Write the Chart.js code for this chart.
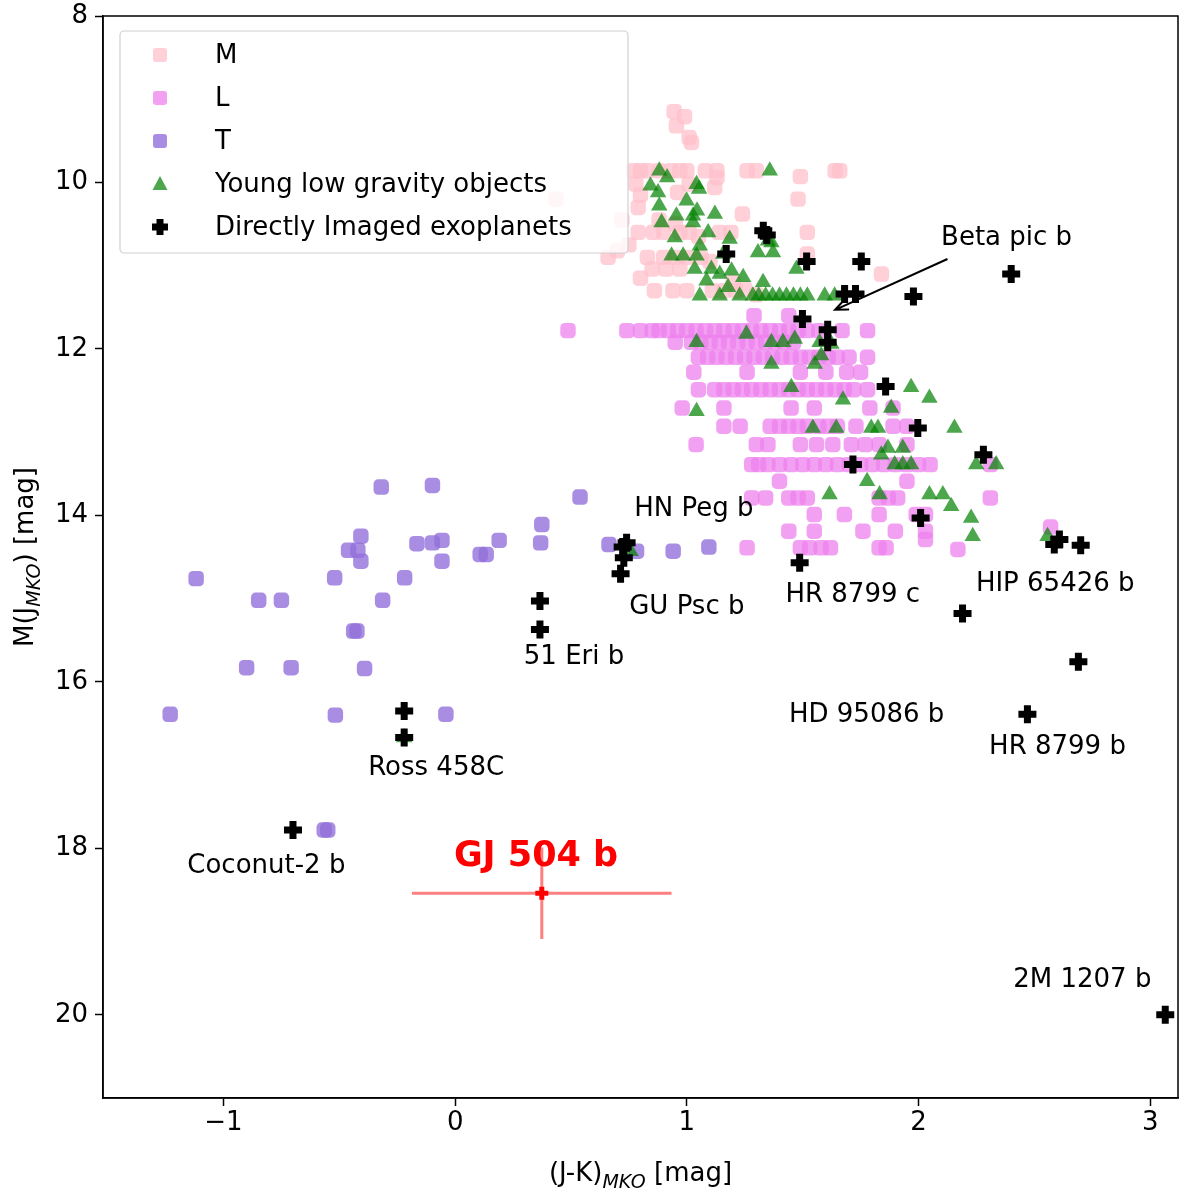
<!DOCTYPE html>
<html>
  <head>
    <title>Colour-magnitude diagram</title>
    <script src="https://cdn.jsdelivr.net/npm/chart.js"></script>
    <style>
      body { margin: 0; background: #fff; }
      #wrap { width: 1200px; height: 1194px; }
    </style>
  </head>
  <body>
    <div id="wrap"><canvas id="cmdChart"></canvas></div>

    <script>
      // values, [J-K, M_J]
      const mDwarfs = [
        [0.945, 9.15], [0.99, 9.21], [0.955, 9.32], [1.01, 9.46], [1.02, 9.52],
        [0.77, 9.86], [0.8, 9.86], [0.83, 9.86], [0.88, 9.86], [0.93, 9.86], [0.97, 9.86], [1.0, 9.86],
        [1.08, 9.86], [1.13, 9.86], [1.26, 9.86], [1.3, 9.86], [1.64, 9.86], [1.66, 9.86], [1.49, 9.93],
        [1.13, 9.94], [1.01, 10.02], [1.12, 10.06], [0.78, 10.02], [0.8, 10.15], [0.96, 10.12],
        [0.79, 10.3], [1.24, 10.38], [1.48, 10.2], [0.435, 10.2], [0.88, 10.45], [0.95, 10.5], [0.72, 10.45],
        [0.79, 10.6], [0.855, 10.6], [0.9, 10.6], [0.97, 10.6], [1.01, 10.6], [1.14, 10.6], [1.19, 10.6], [1.52, 10.6],
        [1.05, 10.65], [0.75, 10.75], [0.66, 10.9], [0.7, 10.82],
        [0.83, 10.9], [0.9, 10.9], [0.95, 10.9], [1.0, 10.9], [1.06, 10.9], [1.1, 10.95], [1.52, 10.86],
        [0.85, 11.04], [0.91, 11.04], [0.97, 11.04], [1.84, 11.1], [1.2, 11.2], [0.8, 11.15],
        [0.86, 11.3], [0.94, 11.3], [1.0, 11.3], [1.11, 11.3], [1.16, 11.3], [1.21, 11.3], [1.25, 11.28], [1.3, 11.35]
      ];

      const lDwarfs = [
        [1.29, 11.6], [1.44, 11.6],
        [0.487, 11.78], [0.741, 11.78], [0.8, 11.78], [0.85, 11.78], [0.88, 11.78], [0.92, 11.78], [0.96, 11.78],
        [1.0, 11.78], [1.04, 11.78], [1.08, 11.78], [1.12, 11.78], [1.16, 11.78], [1.2, 11.78], [1.24, 11.78],
        [1.28, 11.78], [1.32, 11.78], [1.36, 11.78], [1.4, 11.78], [1.44, 11.78], [1.48, 11.78], [1.52, 11.78],
        [1.57, 11.78], [1.67, 11.78], [1.78, 11.78],
        [0.95, 11.92], [1.02, 11.92], [1.06, 11.92], [1.1, 11.92], [1.14, 11.92], [1.18, 11.92], [1.22, 11.92],
        [1.26, 11.92], [1.3, 11.92], [1.34, 11.92], [1.38, 11.92], [1.42, 11.92], [1.46, 11.92],
        [1.05, 12.1], [1.09, 12.1], [1.13, 12.1], [1.17, 12.1], [1.21, 12.1], [1.25, 12.1], [1.29, 12.1],
        [1.33, 12.1], [1.37, 12.1], [1.41, 12.1], [1.45, 12.1], [1.49, 12.1], [1.53, 12.1], [1.57, 12.1],
        [1.61, 12.1], [1.65, 12.1], [1.7, 12.1], [1.78, 12.1],
        [1.03, 12.28], [1.26, 12.28], [1.49, 12.28], [1.6, 12.28], [1.69, 12.28], [1.75, 12.28],
        [1.05, 12.49], [1.12, 12.49], [1.16, 12.49], [1.2, 12.49], [1.24, 12.49], [1.28, 12.49], [1.32, 12.49],
        [1.36, 12.49], [1.4, 12.49], [1.44, 12.49], [1.48, 12.49], [1.52, 12.49], [1.56, 12.49], [1.6, 12.49],
        [1.64, 12.49], [1.68, 12.49], [1.72, 12.49], [1.78, 12.49],
        [0.98, 12.71], [1.16, 12.71], [1.45, 12.71], [1.55, 12.71], [1.79, 12.71], [1.89, 12.71],
        [1.16, 12.93], [1.23, 12.93], [1.36, 12.93], [1.4, 12.93], [1.44, 12.93], [1.48, 12.93], [1.52, 12.93],
        [1.57, 12.93], [1.61, 12.93], [1.65, 12.93], [1.73, 12.93], [1.89, 12.93], [1.95, 12.93],
        [1.04, 13.15], [1.3, 13.15], [1.35, 13.15], [1.49, 13.15], [1.56, 13.15], [1.63, 13.15], [1.71, 13.15],
        [1.77, 13.15], [1.83, 13.15], [1.95, 13.15],
        [1.28, 13.39], [1.31, 13.39], [1.35, 13.39], [1.4, 13.39], [1.45, 13.39], [1.5, 13.39], [1.55, 13.39],
        [1.6, 13.39], [1.65, 13.39], [1.7, 13.39], [1.75, 13.39], [1.8, 13.39], [1.85, 13.39], [1.9, 13.39],
        [1.95, 13.39], [2.0, 13.39], [2.05, 13.39], [2.31, 13.39],
        [1.4, 13.59], [1.95, 13.59],
        [1.28, 13.79], [1.34, 13.79], [1.44, 13.79], [1.48, 13.79], [1.52, 13.79], [1.83, 13.79], [1.87, 13.79],
        [1.91, 13.79], [2.31, 13.79],
        [1.55, 13.99], [1.68, 13.99], [1.83, 13.99], [1.99, 13.99], [2.03, 13.99],
        [1.44, 14.19], [1.55, 14.19], [1.76, 14.19], [1.9, 14.19], [2.03, 14.19], [2.57, 14.14], [2.03, 14.29],
        [1.26, 14.39], [1.49, 14.39], [1.53, 14.39], [1.58, 14.39], [1.62, 14.39], [1.83, 14.39], [1.86, 14.39],
        [2.17, 14.41]
      ];

      const tDwarfs = [
        [-0.319, 13.66], [-0.098, 13.64], [0.539, 13.78], [-0.407, 14.25], [-0.46, 14.42], [-0.42, 14.42],
        [-0.407, 14.55], [-0.165, 14.34], [-0.098, 14.33], [-0.057, 14.3], [-0.057, 14.55], [0.108, 14.47],
        [0.134, 14.47], [0.19, 14.3], [0.374, 14.11], [0.369, 14.33], [0.664, 14.35], [0.783, 14.43],
        [0.941, 14.43], [1.095, 14.38],
        [-1.118, 14.76], [-0.52, 14.75], [-0.218, 14.75], [-0.848, 15.02], [-0.75, 15.02], [-0.313, 15.02],
        [-0.438, 15.39], [-0.424, 15.39], [-0.9, 15.83], [-0.708, 15.83], [-0.391, 15.84],
        [-1.23, 16.39], [-0.517, 16.4], [-0.04, 16.39], [-0.565, 17.78], [-0.55, 17.78]
      ];

      const youngObjects = [
        [0.881, 9.86], [0.915, 9.94], [1.358, 9.86], [0.843, 10.04], [0.876, 10.12], [1.042, 10.02],
        [1.053, 10.08], [0.881, 10.28], [0.999, 10.22], [0.955, 10.4], [1.027, 10.4], [1.044, 10.34],
        [1.121, 10.38], [0.891, 10.48], [1.027, 10.48], [1.092, 10.6], [0.948, 10.66], [1.185, 10.68],
        [1.365, 10.72], [1.35, 10.7], [1.056, 10.76], [1.307, 10.84], [1.372, 10.84], [0.934, 10.88],
        [0.984, 10.88], [1.042, 10.88], [1.157, 10.86], [1.034, 11.04], [1.106, 11.04], [1.193, 11.06],
        [1.473, 11.04], [1.243, 11.14], [1.085, 11.18], [1.142, 11.1], [1.329, 11.2], [1.178, 11.26],
        [1.056, 11.36], [1.142, 11.36], [1.228, 11.36], [1.285, 11.36], [1.31, 11.36], [1.34, 11.36],
        [1.37, 11.36], [1.4, 11.36], [1.43, 11.36], [1.46, 11.36], [1.49, 11.36], [1.52, 11.36],
        [1.595, 11.36], [1.638, 11.36],
        [1.257, 11.82], [1.042, 11.92], [1.365, 11.92], [1.415, 11.92], [1.466, 11.88], [1.573, 11.92],
        [1.624, 11.94], [1.58, 12.08], [1.365, 12.18], [1.552, 12.18], [1.451, 12.46], [1.968, 12.46],
        [2.047, 12.59], [1.674, 12.61], [1.882, 12.71], [1.042, 12.75], [1.544, 12.95], [1.645, 12.95],
        [1.796, 12.95], [1.825, 12.95], [2.155, 12.95], [1.868, 13.19], [1.932, 13.19], [1.839, 13.27],
        [1.897, 13.39], [1.932, 13.39], [1.968, 13.39], [2.249, 13.39], [2.335, 13.39], [1.778, 13.59],
        [1.616, 13.75], [1.832, 13.75], [2.047, 13.75], [2.105, 13.75], [2.141, 13.89], [2.227, 14.03],
        [2.234, 14.25], [2.557, 14.25], [-0.22, 16.67], [0.757, 14.43]
      ];

      const exoplanets = [
        [-0.7, 17.78], [-0.22, 16.35], [-0.22, 16.67], [0.366, 15.03], [0.366, 15.37],
        [0.723, 14.38], [0.74, 14.33], [0.728, 14.51], [0.714, 14.7],
        [1.17, 10.86], [1.33, 10.58], [1.345, 10.63], [1.517, 10.95], [1.753, 10.95], [1.681, 11.34],
        [1.728, 11.34], [1.499, 11.64], [1.608, 11.77], [1.608, 11.92], [2.4, 11.1], [1.978, 11.37],
        [1.858, 12.45], [1.997, 12.95], [2.28, 13.27], [1.717, 13.39], [2.009, 14.03],
        [2.586, 14.35], [2.608, 14.29], [2.7, 14.36], [2.19, 15.18], [2.69, 15.76], [2.47, 16.39],
        [1.487, 14.57], [3.065, 20.0]
      ];

      // GJ 504 b with its error bars
      const gj504 = { x: 0.374, y: 18.54, xErr: 0.56, yErr: 0.55 };

      const labelTexts = ["Beta pic b", "HN Peg b", "GU Psc b", "51 Eri b", "HR 8799 c", "HIP 65426 b",
        "HD 95086 b", "HR 8799 b", "Ross 458C", "Coconut-2 b", "2M 1207 b"];
      const labelX = [2.38, 1.03, 1.0, 0.513, 1.716, 2.59, 1.776, 2.6, -0.082, -0.815, 2.707];
      const labelY = [10.67, 13.93, 15.1, 15.71, 14.96, 14.83, 16.4, 16.79, 17.04, 18.22, 19.59];

      const xTicks = [-1, 0, 1, 2, 3];
      const yTicks = [8, 10, 12, 14, 16, 18, 20];

      const toPoints = (arr) => arr.map((p) => ({ x: p[0], y: p[1] }));
      const FONT = "DejaVu Sans";

      // annotation labels, arrow, frame
      const annotations = {
        id: "annotations",
        afterDatasetsDraw(chart) {
          const ctx = chart.ctx;
          const xs = chart.scales.x;
          const ys = chart.scales.y;
          ctx.save();
          ctx.fillStyle = "#000";
          ctx.font = "26px " + FONT;
          ctx.textAlign = "center";
          ctx.textBaseline = "middle";
          labelTexts.forEach((t, i) => {
            ctx.fillText(t, xs.getPixelForValue(labelX[i]), ys.getPixelForValue(labelY[i]));
          });

          // arrow pointing at Beta pic b
          const x0 = xs.getPixelForValue(2.125), y0 = ys.getPixelForValue(10.92);
          const x1 = xs.getPixelForValue(1.64), y1 = ys.getPixelForValue(11.53);
          const ang = Math.atan2(y1 - y0, x1 - x0);
          ctx.strokeStyle = "#000";
          ctx.lineWidth = 2;
          ctx.beginPath();
          ctx.moveTo(x0, y0);
          ctx.lineTo(x1, y1);
          ctx.moveTo(x1 - 14 * Math.cos(ang - 0.4), y1 - 14 * Math.sin(ang - 0.4));
          ctx.lineTo(x1, y1);
          ctx.lineTo(x1 - 14 * Math.cos(ang + 0.4), y1 - 14 * Math.sin(ang + 0.4));
          ctx.stroke();

          ctx.fillStyle = "#ff0000";
          ctx.font = "bold 35px " + FONT;
          ctx.fillText("GJ 504 b", xs.getPixelForValue(0.349), ys.getPixelForValue(18.1));
          ctx.restore();
        },
        afterDraw(chart) {
          const a = chart.chartArea;
          const ctx = chart.ctx;
          ctx.save();
          ctx.strokeStyle = "#000";
          ctx.lineWidth = 1.5;
          ctx.strokeRect(a.left, a.top, a.right - a.left, a.bottom - a.top);
          ctx.restore();
        },
      };

      // axis titles with subscripts
      function drawRuns(ctx, runs, cx, cy) {
        let total = 0;
        runs.forEach((r) => {
          ctx.font = r.sub ? "italic 19px " + FONT : "26px " + FONT;
          r.w = ctx.measureText(r.t).width;
          total += r.w;
        });
        let x = cx - total / 2;
        runs.forEach((r) => {
          ctx.font = r.sub ? "italic 19px " + FONT : "26px " + FONT;
          ctx.fillText(r.t, x, r.sub ? cy + 7 : cy);
          x += r.w;
        });
      }

      const axisTitles = {
        id: "axisTitles",
        afterDraw(chart) {
          const ctx = chart.ctx;
          const a = chart.chartArea;
          ctx.save();
          ctx.fillStyle = "#000";
          ctx.textAlign = "left";
          ctx.textBaseline = "alphabetic";
          drawRuns(ctx, [{ t: "(J-K)" }, { t: "MKO", sub: true }, { t: " [mag]" }], (a.left + a.right) / 2, 1181);
          ctx.translate(33, (a.top + a.bottom) / 2);
          ctx.rotate(-Math.PI / 2);
          drawRuns(ctx, [{ t: "M(J" }, { t: "MKO", sub: true }, { t: ") [mag]" }], 0, 0);
          ctx.restore();
        },
      };

      // legend box in the upper left corner
      const legendBox = {
        id: "legendBox",
        afterDraw(chart) {
          const ctx = chart.ctx;
          const a = chart.chartArea;
          const bx = a.left + 17, by = a.top + 15;
          ctx.save();
          ctx.fillStyle = "rgba(255,255,255,0.8)";
          ctx.strokeStyle = "#d0d0d0";
          ctx.lineWidth = 1.2;
          ctx.beginPath();
          ctx.roundRect(bx, by, 508, 222, 4);
          ctx.fill();
          ctx.stroke();
          const sets = chart.data.datasets.filter((d) => d.inLegend);
          sets.forEach((d, i) => {
            const mx = bx + 40, my = by + 24 + i * 43;
            ctx.fillStyle = d.backgroundColor;
            ctx.strokeStyle = d.borderColor;
            if (d.pointStyle === "rectRounded") {
              ctx.beginPath();
              ctx.roundRect(mx - 7, my - 7, 14, 14, 3);
              ctx.fill();
            } else if (d.pointStyle === "triangle") {
              ctx.beginPath();
              ctx.moveTo(mx, my - 8);
              ctx.lineTo(mx + 7.5, my + 6);
              ctx.lineTo(mx - 7.5, my + 6);
              ctx.closePath();
              ctx.fill();
            } else {
              ctx.lineWidth = 7;
              ctx.beginPath();
              ctx.moveTo(mx - 8, my);
              ctx.lineTo(mx + 8, my);
              ctx.moveTo(mx, my - 8);
              ctx.lineTo(mx, my + 8);
              ctx.stroke();
            }
            ctx.fillStyle = "#000";
            ctx.font = "26px " + FONT;
            ctx.textBaseline = "middle";
            ctx.fillText(d.label, bx + 95, my + 1);
          });
          ctx.restore();
        },
      };

      const squareStyle = { pointStyle: "rectRounded", pointRadius: 9, borderWidth: 0 };

      new Chart(document.getElementById("cmdChart"), {
        type: "scatter",
        data: {
          datasets: [
            {
              label: "M", data: toPoints(mDwarfs), ...squareStyle, order: 6, inLegend: true,
              backgroundColor: "rgba(255,192,203,0.75)", borderColor: "rgba(255,192,203,0.75)",
            },
            {
              label: "L", data: toPoints(lDwarfs), ...squareStyle, order: 5, inLegend: true,
              backgroundColor: "rgba(238,130,238,0.75)", borderColor: "rgba(238,130,238,0.75)",
            },
            {
              label: "T", data: toPoints(tDwarfs), ...squareStyle, order: 4, inLegend: true,
              backgroundColor: "rgba(147,112,219,0.8)", borderColor: "rgba(147,112,219,0.8)",
            },
            {
              label: "Young low gravity objects", data: toPoints(youngObjects), order: 3, inLegend: true,
              pointStyle: "triangle", pointRadius: 9.5, borderWidth: 0,
              backgroundColor: "rgba(0,128,0,0.7)", borderColor: "rgba(0,128,0,0.7)",
            },
            {
              label: "Directly Imaged exoplanets", data: toPoints(exoplanets), order: 2, inLegend: true,
              pointStyle: "cross", pointRadius: 9, borderWidth: 7,
              backgroundColor: "#000", borderColor: "#000",
            },
            {
              label: "GJ 504 b x error", order: 1, showLine: true, pointRadius: 0, borderWidth: 3,
              borderColor: "rgba(255,0,0,0.5)",
              data: [{ x: gj504.x - gj504.xErr, y: gj504.y }, { x: gj504.x + gj504.xErr, y: gj504.y }],
            },
            {
              label: "GJ 504 b y error", order: 1, showLine: true, pointRadius: 0, borderWidth: 3,
              borderColor: "rgba(255,0,0,0.5)",
              data: [{ x: gj504.x, y: gj504.y - gj504.yErr }, { x: gj504.x, y: gj504.y + gj504.yErr }],
            },
            {
              label: "GJ 504 b", order: 0, data: [{ x: gj504.x, y: gj504.y }],
              pointStyle: "cross", pointRadius: 6.5, borderWidth: 5, borderColor: "#ff0000",
            },
          ],
        },
        options: {
          responsive: true,
          maintainAspectRatio: false,
          animation: false,
          events: [],
          layout: { padding: { left: 0, right: 22, top: 13, bottom: 0 } },
          plugins: { legend: { display: false }, tooltip: { enabled: false } },
          scales: {
            x: {
              type: "linear",
              min: -1.52,
              max: 3.12,
              afterBuildTicks: (scale) => { scale.ticks = xTicks.map((v) => ({ value: v })); },
              afterFit: (scale) => { scale.height = 96; },
              grid: { drawOnChartArea: false, drawTicks: true, tickLength: 8, tickWidth: 1.5, tickColor: "#000" },
              border: { display: true, color: "#000", width: 1.5 },
              ticks: {
                color: "#000",
                padding: 4,
                font: { family: FONT, size: 26, lineHeight: 1 },
                callback: (v) => String(v).replace("-", "\u2212"),
              },
            },
            y: {
              type: "linear",
              reverse: true,
              min: 8,
              max: 21,
              afterBuildTicks: (scale) => { scale.ticks = yTicks.map((v) => ({ value: v })); },
              afterFit: (scale) => {
                scale.width = 103;
                scale.paddingTop = 0;
                scale.paddingBottom = 0;
              },
              grid: { drawOnChartArea: false, drawTicks: true, tickLength: 8, tickWidth: 1.5, tickColor: "#000" },
              border: { display: true, color: "#000", width: 1.5 },
              ticks: {
                color: "#000",
                padding: 7,
                font: { family: FONT, size: 26, lineHeight: 1 },
              },
            },
          },
        },
        plugins: [annotations, axisTitles, legendBox],
      });
    </script>
  </body>
</html>
